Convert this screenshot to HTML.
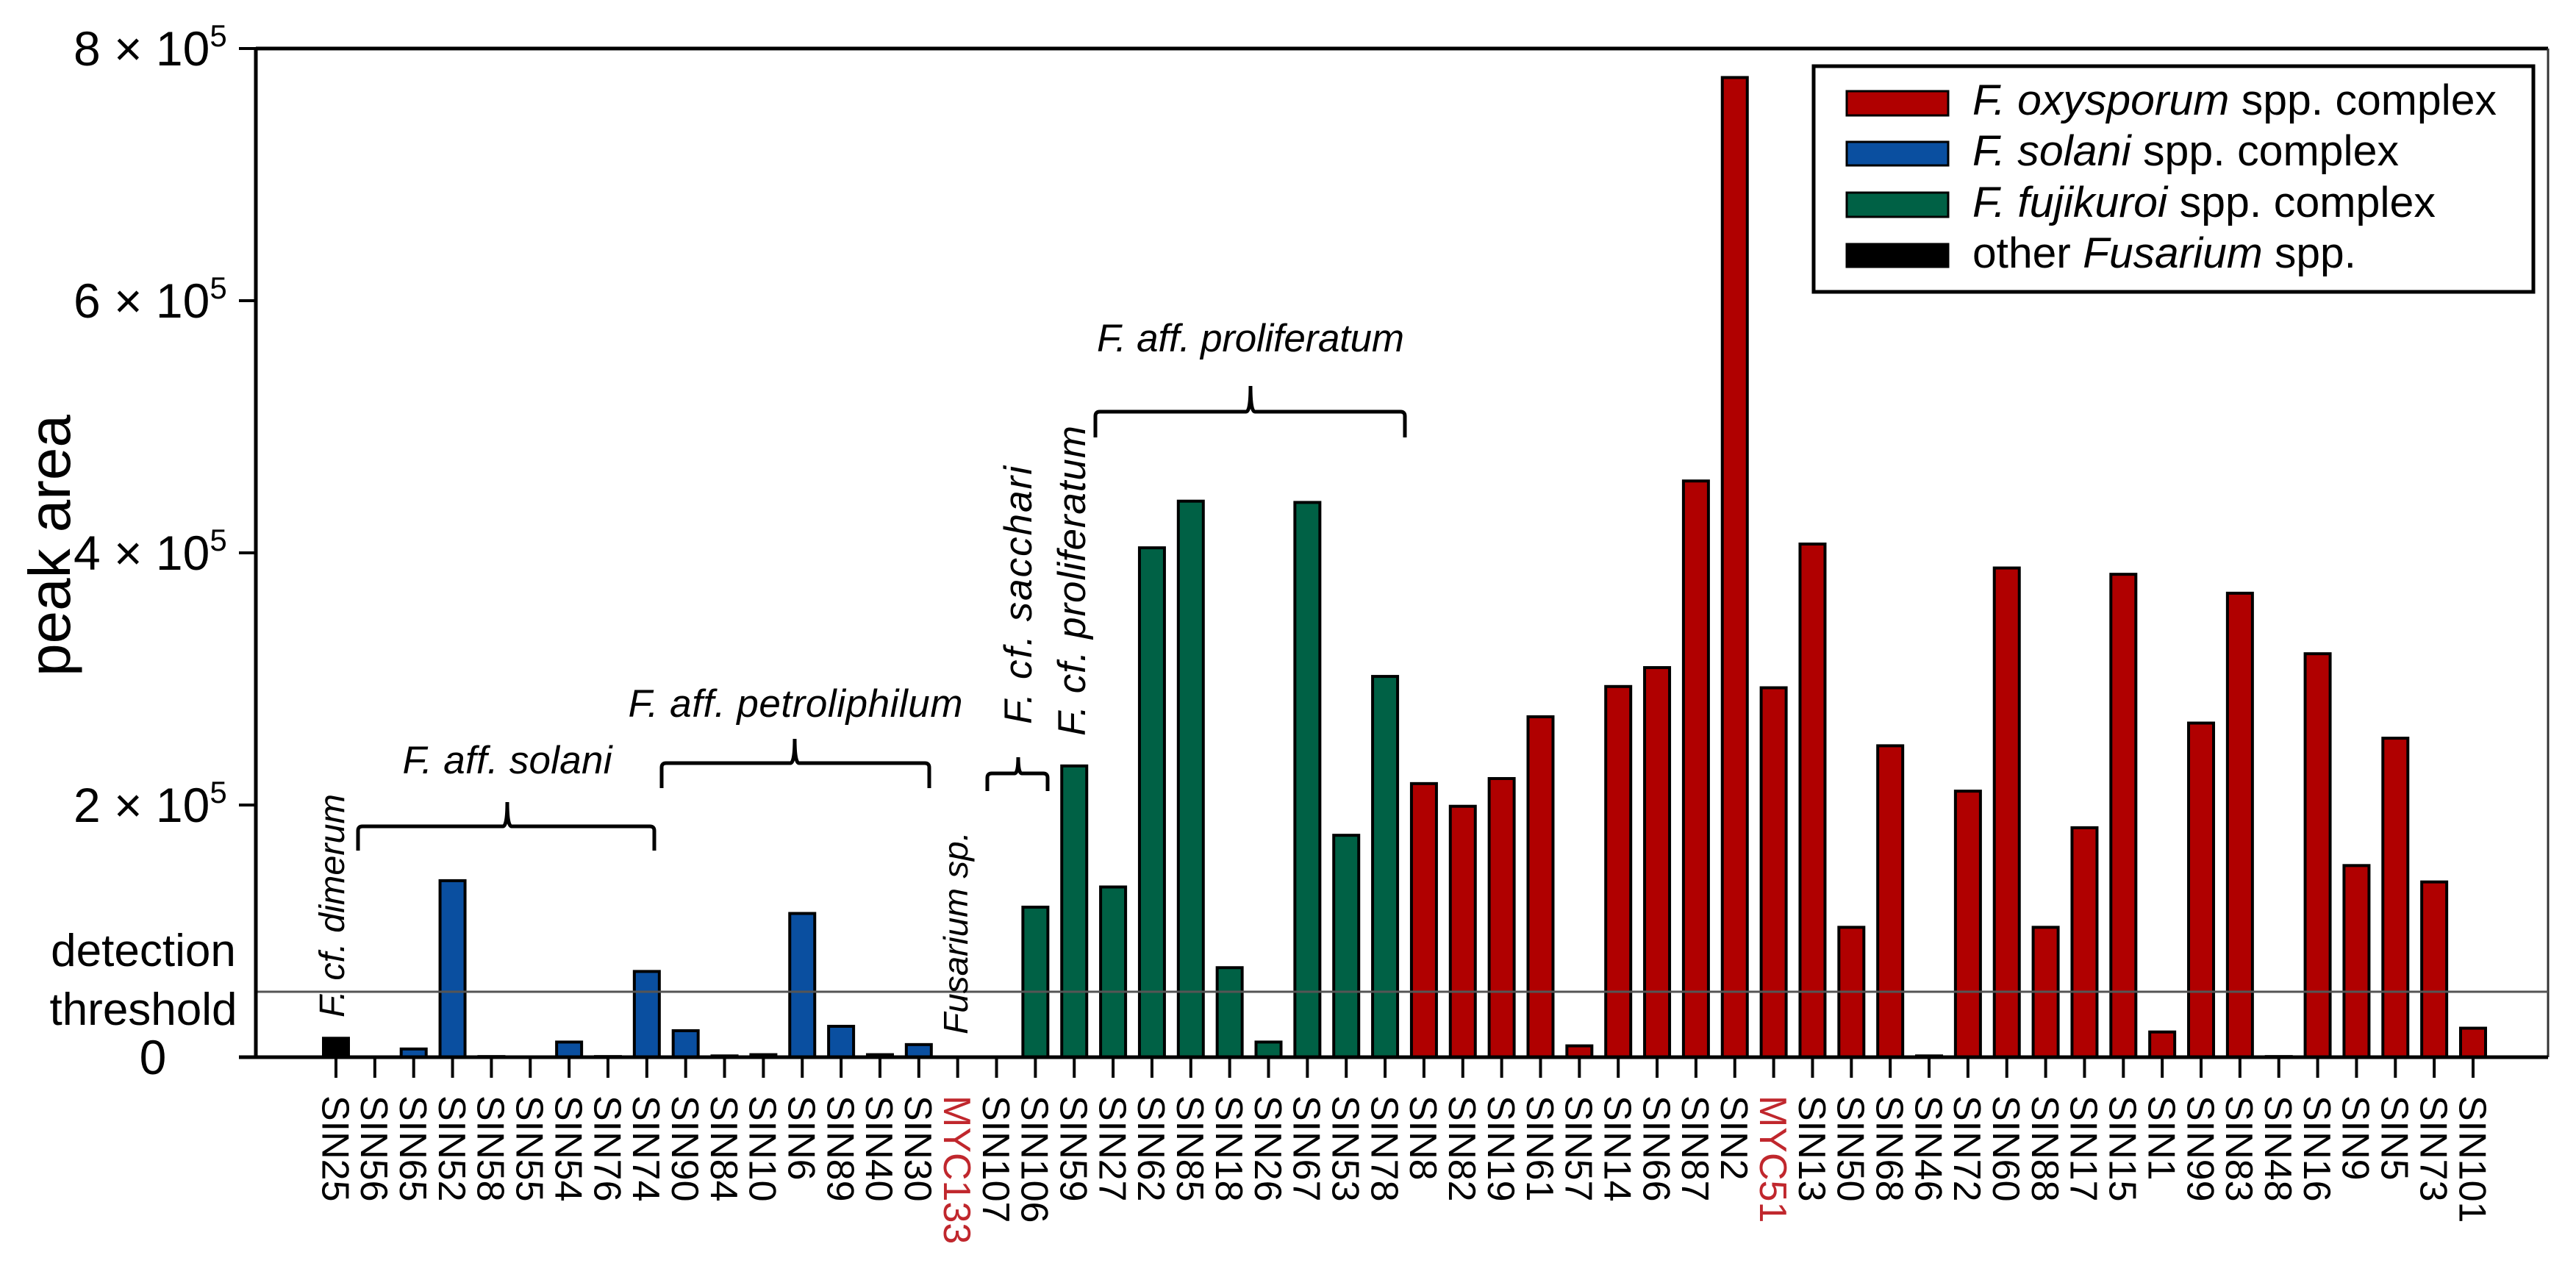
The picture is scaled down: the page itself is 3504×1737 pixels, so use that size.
<!DOCTYPE html>
<html><head><meta charset="utf-8"><style>
html,body{margin:0;padding:0;background:#fff}
svg{display:block}
text{font-family:"Liberation Sans",Arial,sans-serif;fill:#000}
</style></head><body>
<svg id="chart" width="3504" height="1737" viewBox="0 0 3504 1737" xmlns="http://www.w3.org/2000/svg">
<g id="frame">
<line x1="348" y1="66" x2="3466" y2="66" stroke="#000" stroke-width="5"/>
<line x1="3466" y1="66" x2="3466" y2="1438" stroke="#333" stroke-width="3"/>
</g>
<g id="bars"></g>
<line x1="348" y1="1349" x2="3466" y2="1349" stroke="#555" stroke-width="3"/>
<g id="axes">
<line x1="348" y1="64" x2="348" y2="1440" stroke="#000" stroke-width="5"/>
<line x1="325" y1="1438" x2="3466" y2="1438" stroke="#000" stroke-width="5"/>
</g>
<g id="yticks"></g>
<g id="xticks"></g>
<text x="95" y="742" font-size="80" text-anchor="middle" transform="rotate(-90 95 742)">peak area</text>
<text x="195" y="1314" font-size="62" text-anchor="middle">detection</text>
<text x="195" y="1394" font-size="62" text-anchor="middle">threshold</text>
<g id="annotations" font-style="italic">
<text x="468" y="1384" font-size="48" transform="rotate(-90 468 1384)" textLength="304" lengthAdjust="spacingAndGlyphs">F. cf. dimerum</text>
<text x="690" y="1052" font-size="53" text-anchor="middle" textLength="285" lengthAdjust="spacing">F. aff. solani</text>
<path d="M487,1157 L487,1130 Q487,1124 493,1124 L684,1124 Q690,1124 690,1091 Q690,1124 696,1124 L884,1124 Q890,1124 890,1130 L890,1157" fill="none" stroke="#000" stroke-width="5"/>
<text x="1082" y="975" font-size="53" text-anchor="middle" textLength="455" lengthAdjust="spacing">F. aff. petroliphilum</text>
<path d="M900,1072 L900,1044 Q900,1038 906,1038 L1075,1038 Q1081,1038 1081,1005 Q1081,1038 1087,1038 L1258,1038 Q1264,1038 1264,1044 L1264,1072" fill="none" stroke="#000" stroke-width="5"/>
<text x="1316" y="1407" font-size="46" transform="rotate(-90 1316 1407)" textLength="276" lengthAdjust="spacingAndGlyphs">Fusarium sp.</text>
<path d="M1343,1076 L1343,1058 Q1343,1052 1349,1052 L1380,1052 Q1385,1052 1385,1030 Q1385,1052 1390,1052 L1419,1052 Q1425,1052 1425,1058 L1425,1076" fill="none" stroke="#000" stroke-width="5"/>
<text x="1403" y="985" font-size="53" transform="rotate(-90 1403 985)" textLength="351" lengthAdjust="spacing">F. cf. sacchari</text>
<text x="1476" y="1001" font-size="53" transform="rotate(-90 1476 1001)" textLength="422" lengthAdjust="spacing">F. cf. proliferatum</text>
<text x="1701" y="478" font-size="53" text-anchor="middle" textLength="418" lengthAdjust="spacing">F. aff. proliferatum</text>
<path d="M1490,595 L1490,566 Q1490,560 1496,560 L1695,560 Q1701,560 1701,525 Q1701,560 1707,560 L1905,560 Q1911,560 1911,566 L1911,595" fill="none" stroke="#000" stroke-width="5"/>
</g>
<g id="legend">
<rect x="2467" y="90" width="979" height="307" fill="#fff" stroke="#000" stroke-width="5"/>
<g>
<rect x="2512" y="124" width="138" height="33" fill="#b00000" stroke="#000" stroke-width="3"/>
<text x="2683" y="156" font-size="58" textLength="713" lengthAdjust="spacingAndGlyphs"><tspan font-style="italic">F. oxysporum</tspan> spp. complex</text></g>
<g>
<rect x="2512" y="193" width="138" height="32" fill="#0a4fa0" stroke="#000" stroke-width="3"/>
<text x="2683" y="225" font-size="58" textLength="580" lengthAdjust="spacingAndGlyphs"><tspan font-style="italic">F. solani</tspan> spp. complex</text></g>
<g>
<rect x="2512" y="262" width="138" height="33" fill="#006145" stroke="#000" stroke-width="3"/>
<text x="2683" y="295" font-size="58" textLength="630" lengthAdjust="spacingAndGlyphs"><tspan font-style="italic">F. fujikuroi</tspan> spp. complex</text></g>
<g>
<rect x="2512" y="332" width="138" height="31" fill="#000" stroke="#000" stroke-width="3"/>
<text x="2683" y="364" font-size="58" textLength="522" lengthAdjust="spacingAndGlyphs">other <tspan font-style="italic">Fusarium</tspan> spp.</text></g>
</g>
</svg>
<script>
const categories = ["SIN25","SIN56","SIN65","SIN52","SIN58","SIN55","SIN54","SIN76","SIN74","SIN90","SIN84","SIN10","SIN6","SIN89","SIN40","SIN30","MYC133","SIN107","SIN106","SIN59","SIN27","SIN62","SIN85","SIN18","SIN26","SIN67","SIN53","SIN78","SIN8","SIN82","SIN19","SIN61","SIN57","SIN14","SIN66","SIN87","SIN2","MYC51","SIN13","SIN50","SIN68","SIN46","SIN72","SIN60","SIN88","SIN17","SIN15","SIN1","SIN99","SIN83","SIN48","SIN16","SIN9","SIN5","SIN73","SIN101"];
const values = [15000,0,6500,140000,500,0,12000,500,68000,21000,1000,2000,114000,24500,2000,10000,0,0,119000,231000,135000,404000,441000,71000,12000,440000,176000,302000,217000,199000,221000,270000,9000,294000,309000,457000,777000,293000,407000,103000,247000,1000,211000,388000,103000,182000,383000,20000,265000,368000,500,320000,152000,253000,139000,23000];
const groups = ["other","solani","solani","solani","solani","solani","solani","solani","solani","solani","solani","solani","solani","solani","solani","solani","other","fujikuroi","fujikuroi","fujikuroi","fujikuroi","fujikuroi","fujikuroi","fujikuroi","fujikuroi","fujikuroi","fujikuroi","fujikuroi","oxysporum","oxysporum","oxysporum","oxysporum","oxysporum","oxysporum","oxysporum","oxysporum","oxysporum","oxysporum","oxysporum","oxysporum","oxysporum","oxysporum","oxysporum","oxysporum","oxysporum","oxysporum","oxysporum","oxysporum","oxysporum","oxysporum","oxysporum","oxysporum","oxysporum","oxysporum","oxysporum","oxysporum"];
const yTickValues = [0,200000,400000,600000,800000];
const yTickLabels = ["0","2","4","6","8"];
const NS="http://www.w3.org/2000/svg";
const colors={oxysporum:"#b00000",solani:"#0a4fa0",fujikuroi:"#006145",other:"#000"};
function yScale(v){return 1438-(v/800000)*1372;}
function xScale(i){return 457+i*(3364-457)/(categories.length-1);}
function mk(tag,attrs){const e=document.createElementNS(NS,tag);for(const k in attrs)e.setAttribute(k,attrs[k]);return e;}
const barsG=document.getElementById('bars'),xt=document.getElementById('xticks'),yt=document.getElementById('yticks');
categories.forEach((c,i)=>{
  const cx=xScale(i),v=values[i];
  if(v>0){
    const y=yScale(v);
    const r=mk('rect',{x:cx-17,y:y,width:34,height:Math.max(1438-y,0.5),fill:colors[groups[i]],stroke:'#000','stroke-width':4});
    
    
    barsG.appendChild(r);
  }
  const t=mk('line',{x1:cx,y1:1438,x2:cx,y2:1466,stroke:'#000','stroke-width':4});
  
  
  xt.appendChild(t);
  const red=c.startsWith('MYC');
  const lbl=mk('text',{x:cx,y:1490,'font-size':52,transform:'rotate(90 '+cx+' 1490)',dy:'0.36em'});
  lbl.setAttribute('style','fill:'+(red?'#c0272d':'#000'));
  lbl.textContent=c;
  
  
  xt.appendChild(lbl);
});
yTickValues.forEach((v,i)=>{
  const y=yScale(v);
  const t=mk('line',{x1:325,y1:y,x2:348,y2:y,stroke:'#000','stroke-width':4});
  
  
  yt.appendChild(t);
  const lbl=mk('text',{'font-size':66,y:y+23});
  if(v===0){lbl.setAttribute('x',208);lbl.setAttribute('text-anchor','middle');lbl.textContent=yTickLabels[i];}
  else{
    lbl.setAttribute('x',100);
    lbl.appendChild(document.createTextNode(yTickLabels[i]+' \u00d7 10'));
    const s=mk('tspan',{'font-size':42,dy:-26});s.textContent='5';lbl.appendChild(s);
  }
  
  
  yt.appendChild(lbl);
});
</script>
</body></html>
